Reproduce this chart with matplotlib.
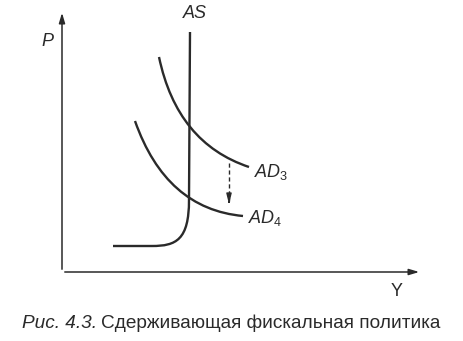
import matplotlib
matplotlib.use('Agg')
import matplotlib.pyplot as plt
from matplotlib.path import Path
from matplotlib.patches import PathPatch

# 公式字体改为 Liberation Sans（斜体）
plt.rcParams['mathtext.fontset'] = 'custom'
plt.rcParams['mathtext.it'] = 'Liberation Sans:italic'
plt.rcParams['mathtext.rm'] = 'Liberation Sans'

# 坐标按原图像素读取（y 向下）
axis_origin = (62, 272)
y_axis_top = (62, 10)
x_axis_right = (422, 272)

# AS 曲线：竖直段 + 弯曲段 + 水平段
as_points = [(190, 32), (189, 200), (189, 240), (176, 246), (152, 246), (113, 246)]
as_codes = [Path.MOVETO, Path.LINETO, Path.CURVE4, Path.CURVE4, Path.CURVE4, Path.LINETO]

# AD3 / AD4：二次贝塞尔（起点、控制点、终点）
ad3_points = [(159, 57), (177, 143), (249, 167)]
ad4_points = [(135, 121), (166, 209), (243, 216)]

# 虚线箭头
shift_x = 229
shift_y = [163, 207]

ink = '#2a2a2a'
FONT = ['Liberation Sans', 'DejaVu Sans']

fig = plt.figure(figsize=(4.64, 3.41), dpi=100)
ax = fig.add_axes([0, 0, 1, 1])
ax.set_xlim(0, 464)
ax.set_ylim(341, 0)
ax.axis('off')

# 坐标轴
ax.annotate('', xy=y_axis_top, xytext=axis_origin,
            arrowprops=dict(arrowstyle='-|>,head_length=0.6,head_width=0.18', color=ink, lw=1.1))
ax.annotate('', xy=x_axis_right, xytext=axis_origin,
            arrowprops=dict(arrowstyle='-|>,head_length=0.6,head_width=0.18', color=ink, lw=1.1))

# 曲线
ax.add_patch(PathPatch(Path(as_points, as_codes), fill=False, ec=ink, lw=1.7))
q = [Path.MOVETO, Path.CURVE3, Path.CURVE3]
ax.add_patch(PathPatch(Path(ad3_points, q), fill=False, ec=ink, lw=1.7))
ax.add_patch(PathPatch(Path(ad4_points, q), fill=False, ec=ink, lw=1.7))

# 虚线箭头
ax.plot([shift_x, shift_x], [shift_y[0], shift_y[1] - 6], color=ink, lw=1.0, ls=(0, (3, 2)))
ax.annotate('', xy=(shift_x, shift_y[1]), xytext=(shift_x, shift_y[1] - 8),
            arrowprops=dict(arrowstyle='-|>,head_length=0.6,head_width=0.15', color=ink, lw=1.0))

# 标签
ax.text(47, 42, 'P', fontsize=13, style='italic', family=FONT, color=ink, ha='center', va='center')
ax.text(195, 14, 'AS', fontsize=13, style='italic', family=FONT, color=ink, ha='center', va='center')
ax.text(397, 292, 'Y', fontsize=13, family=FONT, color=ink, ha='center', va='center')
ax.text(254, 172, r'$AD_{\mathrm{3}}$', fontsize=13, family=FONT, color=ink, ha='left', va='center')
ax.text(248, 218, r'$AD_{\mathrm{4}}$', fontsize=13, family=FONT, color=ink, ha='left', va='center')

# 图注
cap1 = ax.text(22, 323, 'Рис. 4.3.', fontsize=13.7, style='italic', family=FONT, color=ink,
               ha='left', va='center')
fig.canvas.draw()
bb = cap1.get_window_extent()
x_next = ax.transData.inverted().transform((bb.x1, 0))[0] + 4
ax.text(x_next, 323, 'Сдерживающая фискальная политика', fontsize=13.7, family=FONT, color=ink,
        ha='left', va='center')

fig.savefig('out.png', dpi=100)
